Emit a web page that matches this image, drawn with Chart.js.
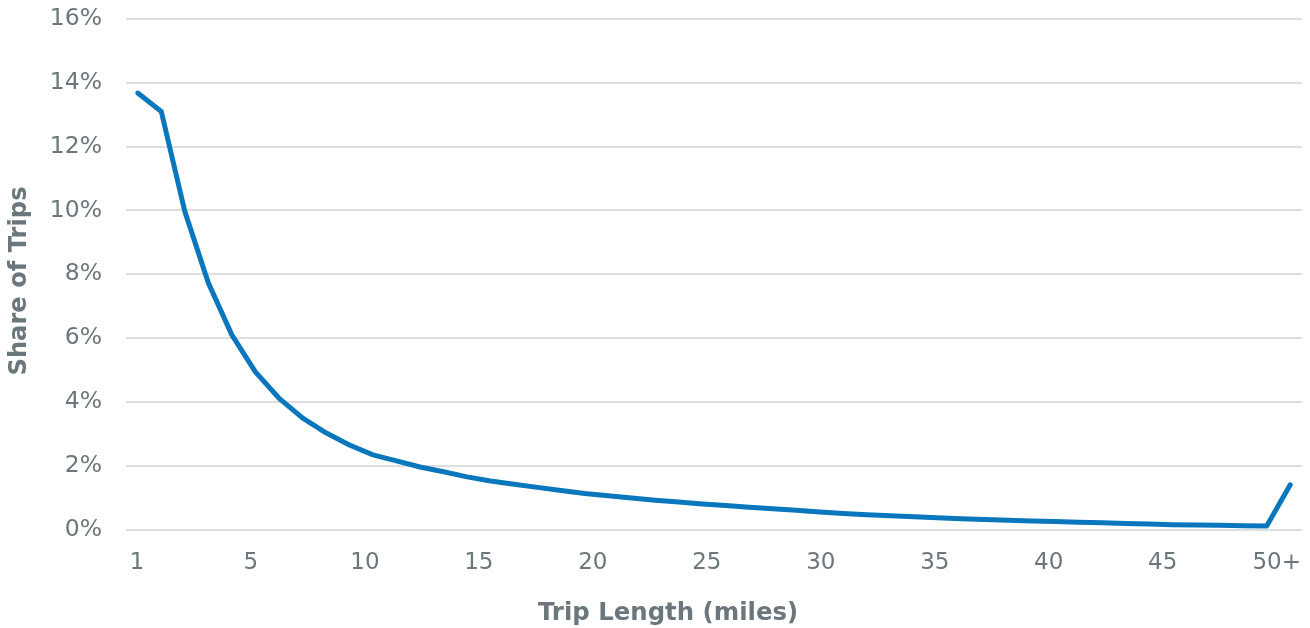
<!DOCTYPE html>
<html lang="en">
<head>
    <meta charset="UTF-8">
    <title>Share of Trips by Trip Length</title>
    <script src="https://cdn.jsdelivr.net/npm/chart.js"></script>
    <style>
        body {
            margin: 0;
            background: #ffffff;
        }
        #wrap {
            width: 1310px;
            height: 628px;
        }
    </style>
</head>
<body>
    <div id="wrap">
        <canvas id="tripChart" width="1310" height="628"></canvas>
    </div>

    <script>
        // Trip length bins (miles), last bin is everything 50 and over
        const categories = [
            '1', '2', '3', '4', '5', '6', '7', '8', '9', '10',
            '11', '12', '13', '14', '15', '16', '17', '18', '19', '20',
            '21', '22', '23', '24', '25', '26', '27', '28', '29', '30',
            '31', '32', '33', '34', '35', '36', '37', '38', '39', '40',
            '41', '42', '43', '44', '45', '46', '47', '48', '49', '50+'
        ];

        // Share of trips (%)
        const shareOfTrips = [
            13.68, 13.10, 9.97, 7.73, 6.10, 4.94, 4.12, 3.50, 3.03, 2.65,
            2.34, 2.15, 1.96, 1.81, 1.65, 1.52, 1.42, 1.32, 1.22, 1.13,
            1.06, 0.99, 0.92, 0.86, 0.80, 0.75, 0.70, 0.65, 0.60, 0.55,
            0.50, 0.46, 0.43, 0.40, 0.37, 0.34, 0.31, 0.29, 0.27, 0.25,
            0.23, 0.21, 0.19, 0.17, 0.15, 0.14, 0.13, 0.12, 0.11, 1.40
        ];

        // Labels under the x axis, evenly spaced
        const tickLabels = ['1', '5', '10', '15', '20', '25', '30', '35', '40', '45', '50+'];
        const tickSlots = [0, 5, 10, 15, 20, 25, 30, 35, 40, 45, 50];

        const yTicks = [0, 2, 4, 6, 8, 10, 12, 14, 16];

        const xTitle = 'Trip Length (miles)';
        const yTitle = 'Share of Trips';

        const textColor = '#6b777c';
        const gridColor = '#dcdfdf';
        const lineColor = '#0a77bd';
        const clear = 'rgba(0,0,0,0)';

        // axis titles sit a bit off the plot centre in the original, so draw them here
        const axisTitles = {
            id: 'axisTitles',
            afterDraw(chart) {
                const c = chart.ctx;
                c.save();
                c.fillStyle = textColor;
                c.textAlign = 'center';
                c.textBaseline = 'middle';
                c.font = 'bold 24.4px "DejaVu Sans"';
                c.fillText(xTitle, 668, 614);
                c.font = 'bold 24.2px "DejaVu Sans"';
                c.translate(20, 281);
                c.rotate(-Math.PI / 2);
                c.fillText(yTitle, 0, 0);
                c.restore();
            }
        };

        const ctx = document.getElementById('tripChart').getContext('2d');
        new Chart(ctx, {
            type: 'line',
            data: {
                labels: categories,
                datasets: [{
                    label: 'Share of Trips',
                    data: shareOfTrips,
                    xAxisID: 'x',
                    borderColor: lineColor,
                    borderWidth: 5,
                    borderCapStyle: 'round',
                    borderJoinStyle: 'round',
                    pointRadius: 0,
                    tension: 0,
                    fill: false
                }]
            },
            options: {
                responsive: false,
                animation: false,
                layout: {
                    padding: { top: 19, right: 8, bottom: 0, left: 6 }
                },
                plugins: {
                    legend: { display: false },
                    tooltip: { enabled: false }
                },
                scales: {
                    x: {
                        type: 'category',
                        display: false,
                        offset: true
                    },
                    x2: {
                        type: 'linear',
                        position: 'bottom',
                        min: -0.48,
                        max: 51.11,
                        afterBuildTicks: function (axis) {
                            axis.ticks = tickSlots.map(v => ({ value: v }));
                        },
                        afterFit: function (axis) {
                            axis.height = 98.5;
                        },
                        // invisible tick marks only push the labels down
                        grid: {
                            drawOnChartArea: false,
                            drawTicks: true,
                            tickLength: 20,
                            tickColor: clear,
                            color: clear
                        },
                        border: { display: false },
                        ticks: {
                            autoSkip: false,
                            maxRotation: 0,
                            padding: 0,
                            color: textColor,
                            font: { family: 'DejaVu Sans', size: 23 },
                            callback: function (value) {
                                const i = tickSlots.indexOf(value);
                                return i >= 0 ? tickLabels[i] : '';
                            }
                        }
                    },
                    y: {
                        min: 0,
                        max: 16,
                        afterBuildTicks: function (axis) {
                            axis.ticks = yTicks.map(v => ({ value: v }));
                        },
                        afterFit: function (axis) {
                            axis.width = 120;
                        },
                        grid: {
                            color: gridColor,
                            lineWidth: 2,
                            drawTicks: true,
                            tickLength: 20,
                            tickColor: clear
                        },
                        border: { display: false },
                        ticks: {
                            padding: 4,
                            color: textColor,
                            font: { family: 'DejaVu Sans', size: 23.5 },
                            callback: function (value) {
                                return value + '%';
                            }
                        }
                    }
                }
            },
            plugins: [axisTitles]
        });
    </script>
</body>
</html>
